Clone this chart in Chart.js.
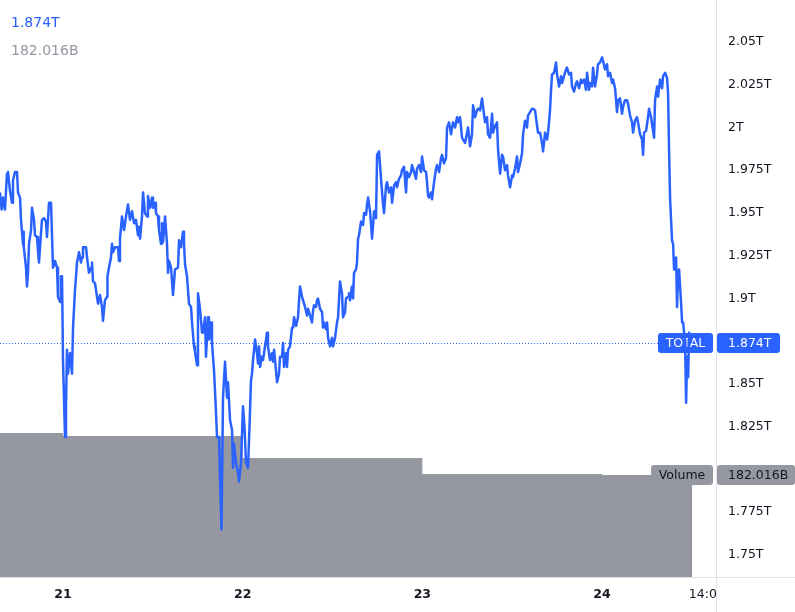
<!DOCTYPE html>
<html>
<head>
<meta charset="utf-8">
<script src="https://cdn.jsdelivr.net/npm/chart.js@4.4.0/dist/chart.umd.min.js"></script>
<style>
  html, body { margin: 0; padding: 0; background: #ffffff; }
  #wrap { position: relative; width: 795px; height: 612px; }
  canvas { display: block; }
</style>
</head>
<body>
<div id="wrap"><canvas id="c" width="795" height="612"></canvas></div>
<script>
// ---- Data (TOTAL crypto market cap, billions USD; time in hours from day 21 00:00) ----
const hoursFrom21 = [
-8.42,-8.19,-8.01,-7.75,-7.48,-7.35,-7.08,-6.81,-6.68,-6.41,-6.14,-6.01,-5.74,-5.61,-5.34,-5.27,-5.21,-4.94,-4.81,-4.68,
-4.54,-4.27,-4.14,-3.87,-3.74,-3.47,-3.34,-3.21,-2.94,-2.81,-2.54,-2.27,-2.14,-1.87,-1.60,-1.47,-1.34,-1.07,-0.80,-0.67,
-0.40,-0.27,-0.13,0.00,0.27,0.40,0.53,0.67,0.94,1.20,1.34,1.60,1.74,1.87,2.14,2.40,2.54,2.67,3.07,3.21,
3.47,3.74,3.87,4.01,4.27,4.54,4.68,4.94,5.21,5.34,5.61,5.88,5.94,6.14,6.41,6.55,6.68,6.95,7.35,7.48,
7.61,7.88,8.15,8.42,8.68,8.95,9.22,9.49,9.75,10.02,10.15,10.29,10.55,10.69,10.95,11.22,11.35,11.62,11.89,12.02,
12.29,12.42,12.69,12.82,13.09,13.22,13.36,13.63,13.89,14.03,14.16,14.43,14.69,14.96,15.36,15.50,15.76,16.03,16.16,16.30,
16.56,16.83,17.10,17.23,17.50,17.63,17.90,18.03,18.30,18.57,18.70,18.97,19.10,19.37,19.50,19.77,19.90,20.17,20.44,20.57,
20.84,20.97,21.17,21.37,21.64,21.91,22.04,22.31,22.58,22.71,22.84,23.11,23.38,23.51,23.78,24.04,24.24,24.44,24.71,24.91,
25.11,25.25,25.38,25.51,25.65,25.91,26.05,26.18,26.32,26.58,26.72,26.98,27.25,27.38,27.65,27.92,28.05,28.19,28.45,28.59,
28.85,28.99,29.25,29.39,29.52,29.79,29.92,30.06,30.32,30.59,30.73,30.86,31.13,31.39,31.53,31.66,31.93,32.06,32.33,32.59,
32.73,33.00,33.26,33.40,33.53,33.80,33.93,34.06,34.33,34.60,34.73,34.87,35.13,35.27,35.40,35.67,35.93,36.07,36.34,36.60,
36.74,37.00,37.27,37.40,37.67,37.80,38.07,38.20,38.34,38.60,38.74,38.87,39.14,39.27,39.41,39.54,39.81,40.08,40.21,40.48,
40.61,40.75,41.01,41.15,41.28,41.55,41.81,41.95,42.21,42.48,42.75,42.88,43.15,43.28,43.55,43.82,43.95,44.22,44.48,44.62,
44.88,45.15,45.28,45.55,45.82,45.95,46.22,46.49,46.62,46.89,47.15,47.29,47.56,47.82,47.96,48.22,48.49,48.62,48.76,48.89,
49.16,49.29,49.56,49.83,49.96,50.23,50.49,50.63,50.89,51.16,51.30,51.56,51.83,51.97,52.10,52.37,52.63,52.77,53.03,53.30,
53.43,53.70,53.97,54.10,54.37,54.63,54.77,55.04,55.30,55.44,55.71,55.97,56.11,56.37,56.64,56.77,57.04,57.31,57.44,57.71,
57.97,58.11,58.38,58.64,58.78,59.04,59.31,59.44,59.71,59.98,60.11,60.38,60.64,60.78,61.05,61.31,61.45,61.71,61.98,62.11,
62.38,62.65,62.78,63.05,63.32,63.45,63.72,63.98,64.12,64.39,64.65,64.79,65.05,65.19,65.32,65.59,65.86,65.99,66.26,66.52,
66.66,66.92,67.19,67.32,67.59,67.86,67.99,68.26,68.53,68.66,68.93,69.19,69.33,69.60,69.86,70.00,70.26,70.40,70.66,70.80,
71.06,71.33,71.46,71.73,72.00,72.13,72.40,72.67,72.80,73.07,73.34,73.47,73.74,74.00,74.14,74.40,74.67,74.80,75.07,75.34,
75.47,75.74,76.01,76.14,76.41,76.67,76.81,77.08,77.34,77.48,77.61,77.88,78.14,78.28,78.54,78.81,78.95,79.08,79.35,79.48,
79.75,80.02,80.15,80.42,80.68,80.82,80.95,81.09,81.35,81.49,81.62,81.89,82.02,82.16,82.29,82.56,82.69,82.83,83.09,83.23,
83.36,83.50,83.63,83.90
];
const totalCapB = [
1962,1952,1959,1952,1973,1974,1963,1956,1969,1974,1974,1962,1959,1946,1932,1939,1930,1918,1907,1915,
1932,1940,1953,1946,1937,1936,1928,1921,1938,1946,1947,1945,1936,1956,1956,1956,1918,1922,1918,1901,
1898,1913,1913,1864,1819,1837,1870,1856,1868,1856,1883,1905,1913,1921,1927,1921,1924,1930,1930,1924,
1915,1918,1921,1910,1909,1901,1897,1902,1895,1887,1899,1901,1913,1918,1924,1932,1927,1930,1930,1922,
1935,1948,1940,1948,1955,1946,1951,1944,1946,1937,1942,1935,1948,1962,1950,1948,1960,1953,1959,1953,
1956,1950,1948,1940,1932,1944,1933,1948,1932,1915,1922,1918,1902,1917,1918,1934,1930,1939,1932,1920,
1913,1897,1895,1886,1872,1869,1861,1903,1894,1880,1880,1889,1866,1889,1876,1886,1874,1858,1833,1819,
1819,1796,1765,1842,1863,1842,1851,1829,1823,1801,1815,1804,1798,1793,1804,1837,1825,1804,1801,1825,
1852,1856,1864,1864,1876,1868,1862,1872,1860,1866,1864,1872,1880,1872,1864,1868,1863,1870,1858,1851,
1856,1866,1866,1874,1860,1868,1860,1870,1872,1883,1883,1889,1884,1889,1899,1907,1901,1899,1895,1890,
1894,1890,1886,1893,1896,1895,1899,1900,1894,1892,1883,1886,1882,1886,1877,1872,1877,1872,1877,1886,
1889,1910,1903,1889,1892,1900,1901,1903,1899,1907,1900,1915,1917,1921,1935,1937,1945,1943,1950,1949,
1955,1959,1951,1943,1935,1951,1947,1984,1986,1970,1955,1950,1966,1968,1962,1965,1956,1966,1968,1965,
1970,1972,1975,1977,1962,1974,1971,1974,1978,1974,1970,1976,1978,1974,1983,1975,1974,1968,1960,1959,
1962,1958,1968,1976,1978,1974,1982,1984,1979,1982,2000,2003,1996,2000,2003,2000,2006,2003,2006,1994,
1993,1991,1997,2000,1989,1996,2013,2006,2010,2011,2010,2017,2012,2003,2006,1996,1994,2008,1997,2001,
2003,1987,1973,1984,1983,1975,1978,1972,1965,1972,1971,1976,1983,1974,1979,1985,1996,2004,2000,2007,
2009,2011,2011,2010,2001,1997,1997,1991,1986,1997,1993,1997,2010,2022,2031,2032,2038,2031,2024,2030,
2026,2030,2034,2035,2031,2032,2024,2021,2026,2027,2023,2028,2026,2028,2022,2032,2022,2026,2024,2035,
2024,2031,2037,2038,2041,2039,2034,2037,2030,2032,2026,2028,2023,2009,2016,2017,2008,2012,2016,2016,
2014,2007,2003,1997,2004,2006,2003,1996,1993,1984,1997,1998,2006,2011,2006,1998,1994,2016,2024,2018,
2028,2023,2030,2032,2029,2020,1987,1958,1934,1932,1917,1924,1895,1915,1917,1897,1886,1886,1874,1839,
1866,1854,1880,1874
];
// Daily volume (billions USD), each value holds from the start hour of its day
const volumeDayStart = [-24, 0, 24, 48, 72];
const volumeB = [257.0, 251.6, 212.4, 183.8, 182.016];
// Axis ticks
const priceTicks = [1750,1775,1800,1825,1850,1875,1900,1925,1950,1975,2000,2025,2050];
const timeTicks = [0, 24, 48, 72, 86];
const timeLabels = ['21', '22', '23', '24', '14:00'];
const symbolName = 'TOTAL';

// ---- Build chart ----
const FONT = "'DejaVu Sans', sans-serif";
const BLUE = '#2962ff';
const VOLGRAY = '#9598a1';
const LINEGRAY = '#e0e3eb';

const priceData = hoursFrom21.map((h, i) => ({ x: h, y: totalCapB[i] }));
const lastHour = hoursFrom21[hoursFrom21.length - 1];
const volData = volumeDayStart.map((h, i) => ({ x: h, y: volumeB[i] }));
volData.push({ x: lastHour + 0.15, y: volumeB[volumeB.length - 1] });
const lastPrice = totalCapB[totalCapB.length - 1];
const lastVol = volumeB[volumeB.length - 1];

function fmtT(v) { return (v / 1000) + 'T'; }

function roundRect(ctx, x, y, w, h, r) {
  ctx.beginPath();
  ctx.moveTo(x + r, y);
  ctx.lineTo(x + w - r, y);
  ctx.quadraticCurveTo(x + w, y, x + w, y + r);
  ctx.lineTo(x + w, y + h - r);
  ctx.quadraticCurveTo(x + w, y + h, x + w - r, y + h);
  ctx.lineTo(x + r, y + h);
  ctx.quadraticCurveTo(x, y + h, x, y + h - r);
  ctx.lineTo(x, y + r);
  ctx.quadraticCurveTo(x, y, x + r, y);
  ctx.closePath();
}

// hide price-scale labels that collide with the last-value labels
function tickColor(c) {
  const ch = c.chart;
  if (!c.tick || !ch.scales.y || !ch.scales.yv) return '#131722';
  const p = ch.scales.y.getPixelForValue(c.tick.value);
  const py = ch.scales.y.getPixelForValue(lastPrice);
  const vy = ch.scales.yv.getPixelForValue(lastVol);
  if (Math.abs(p - py) < 18 || Math.abs(p - vy) < 18) return 'rgba(0,0,0,0)';
  return '#131722';
}

const overlay = {
  id: 'overlay',
  afterDatasetDraw(chart, args) {
    if (args.index !== 1) return;
    const ctx = chart.ctx;
    const area = chart.chartArea;
    const py = Math.round(chart.scales.y.getPixelForValue(lastPrice));
    const vy = Math.round(chart.scales.yv.getPixelForValue(lastVol));
    ctx.save();
    // dotted last-price line
    ctx.strokeStyle = BLUE;
    ctx.lineWidth = 1;
    ctx.setLineDash([1, 2]);
    ctx.beginPath();
    ctx.moveTo(area.left, py + 0.5);
    ctx.lineTo(area.right - 58, py + 0.5);
    ctx.stroke();
    ctx.setLineDash([]);
    // symbol label
    ctx.font = '12.5px ' + FONT;
    ctx.textBaseline = 'middle';
    ctx.textAlign = 'center';
    ctx.fillStyle = BLUE;
    roundRect(ctx, area.right - 58, py - 10, 55, 20, 3);
    ctx.fill();
    ctx.fillStyle = '#ffffff';
    ctx.fillText(symbolName, area.right - 30.5, py + 1);
    // price value label on axis
    ctx.fillStyle = BLUE;
    roundRect(ctx, area.right + 1, py - 10, 63, 20, 3);
    ctx.fill();
    ctx.fillStyle = '#ffffff';
    ctx.textAlign = 'left';
    ctx.fillText(fmtT(lastPrice), area.right + 12, py + 1);
    // volume labels
    ctx.fillStyle = VOLGRAY;
    roundRect(ctx, area.right - 65, vy - 10, 62, 20, 3);
    ctx.fill();
    roundRect(ctx, area.right + 1, vy - 10, 78, 20, 3);
    ctx.fill();
    ctx.fillStyle = '#131722';
    ctx.textAlign = 'center';
    ctx.fillText('Volume', area.right - 34, vy + 1);
    ctx.textAlign = 'left';
    ctx.fillText(lastVol.toFixed(3) + 'B', area.right + 12, vy + 1);
    ctx.restore();
  },
  afterDraw(chart) {
    const ctx = chart.ctx;
    const area = chart.chartArea;
    ctx.save();
    // clip time label under the price scale column
    ctx.fillStyle = '#ffffff';
    ctx.fillRect(area.right + 1, area.bottom + 1, chart.width - area.right, chart.height - area.bottom);
    // separators
    ctx.strokeStyle = LINEGRAY;
    ctx.lineWidth = 1;
    ctx.beginPath();
    ctx.moveTo(0, area.bottom + 0.5);
    ctx.lineTo(chart.width, area.bottom + 0.5);
    ctx.moveTo(area.right + 0.5, 0);
    ctx.lineTo(area.right + 0.5, chart.height);
    ctx.stroke();
    // legend values top-left
    ctx.font = '14px ' + FONT;
    ctx.textBaseline = 'middle';
    ctx.textAlign = 'left';
    ctx.fillStyle = BLUE;
    ctx.fillText(fmtT(lastPrice), 11, 23);
    ctx.fillStyle = '#9598a1';
    ctx.fillText(lastVol.toFixed(3) + 'B', 11, 51);
    ctx.restore();
  }
};

new Chart(document.getElementById('c'), {
  data: {
    datasets: [
      {
        type: 'line',
        label: symbolName,
        data: priceData,
        yAxisID: 'y',
        borderColor: BLUE,
        borderWidth: 2.5,
        pointRadius: 0,
        tension: 0,
        fill: false,
        borderJoinStyle: 'round'
      },
      {
        type: 'line',
        label: 'Volume',
        data: volData,
        yAxisID: 'yv',
        stepped: true,
        borderWidth: 0,
        borderColor: 'rgba(0,0,0,0)',
        backgroundColor: VOLGRAY,
        fill: 'origin',
        pointRadius: 0
      }
    ]
  },
  options: {
    responsive: false,
    animation: false,
    devicePixelRatio: 1,
    layout: { padding: 0 },
    plugins: { legend: { display: false }, tooltip: { enabled: false } },
    scales: {
      x: {
        type: 'linear',
        min: -8.4155,
        max: 87.22,
        grid: { display: false, drawTicks: false },
        border: { display: false },
        afterBuildTicks: (s) => { s.ticks = timeTicks.map(v => ({ value: v })); },
        afterFit: (s) => { s.height = 35; s.paddingLeft = 0; s.paddingRight = 0; },
        ticks: {
          autoSkip: false,
          maxRotation: 0,
          padding: 10,
          color: '#131722',
          font: (c) => ({ family: FONT, size: 12.5, weight: (c.tick && c.tick.value === 86) ? 'normal' : 'bold' }),
          callback: (v) => { const i = timeTicks.indexOf(v); return i >= 0 ? timeLabels[i] : ''; }
        }
      },
      y: {
        type: 'linear',
        position: 'right',
        min: 1737.13,
        max: 2074.56,
        grid: { display: false, drawTicks: false },
        border: { display: false },
        afterBuildTicks: (s) => { s.ticks = priceTicks.map(v => ({ value: v })); },
        afterFit: (s) => { s.width = 79; s.paddingTop = 0; s.paddingBottom = 0; },
        ticks: {
          padding: 12,
          color: tickColor,
          font: { family: FONT, size: 12.5 },
          callback: (v) => fmtT(v)
        }
      },
      yv: {
        type: 'linear',
        display: false,
        position: 'left',
        min: 0,
        max: 1029.6
      }
    }
  },
  plugins: [overlay]
});
</script>
</body>
</html>
